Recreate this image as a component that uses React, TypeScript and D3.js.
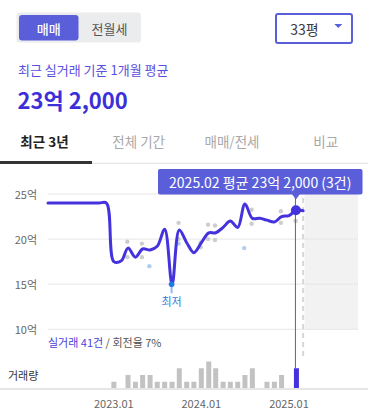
import React from "react";
import * as d3 from "d3";

// ---- data ----
const lineMonths = [
  "2022-04","2022-05","2022-06","2022-07","2022-08","2022-09","2022-10","2022-11","2022-12",
  "2023-01","2023-02","2023-03","2023-04","2023-05","2023-06","2023-07","2023-08","2023-09","2023-10","2023-11","2023-12",
  "2024-01","2024-02","2024-03","2024-04","2024-05","2024-06","2024-07","2024-08","2024-09","2024-10","2024-11","2024-12",
  "2025-01","2025-02","2025-03",
];
const lineValues = [
  24.0, 24.0, 24.0, 24.0, 24.0, 24.0, 24.0, 24.0, 24.0,
  17.5, 17.6, 19.0, 18.0, 18.9, 18.8, 19.2, 21.1, 15.0, 21.0, 19.6, 18.5,
  19.6, 20.7, 20.7, 21.3, 22.0, 21.3, 23.9, 22.3, 22.3, 22.1, 21.9, 22.5,
  22.6, 23.2, 23.15,
];

const dotMonths = [
  "2023-03","2023-03","2023-05","2023-05","2023-06","2023-10","2023-10","2023-10",
  "2024-01","2024-01","2024-02","2024-02","2024-03","2024-03","2024-07","2024-08","2024-08",
  "2024-12","2024-12","2025-02",
];
const dotValues = [
  19.7, 18.0, 19.5, 18.0, 17.0, 21.8, 20.0, 19.5,
  19.6, 19.1, 21.6, 20.0, 21.5, 19.9, 19.0, 23.25, 21.7,
  23.1, 21.8, 22.0,
];
const dotBlue = [
  false, false, false, false, true, false, false, true,
  false, false, false, false, false, false, true, false, false,
  false, false, false,
];

const volMonths = [
  "2023-01","2023-03","2023-04","2023-05","2023-06","2023-07","2023-08","2023-09","2023-10","2023-11","2023-12",
  "2024-01","2024-02","2024-03","2024-04","2024-05","2024-06","2024-07","2024-08","2024-10","2024-11","2024-12",
  "2025-02",
];
const volCounts = [1, 2, 1, 2, 2, 1, 1, 1, 3, 1, 1, 3, 4, 3, 1, 1, 1, 2, 3, 1, 1, 2, 3];

const yTicks = [25, 20, 15, 10];
const xTicks = ["2023-01", "2024-01", "2025-01"];
const tabs = ["최근 3년", "전체 기간", "매매/전세", "비교"];

const selectedMonth = "2025-02";
const currentMonth = "2025-03";
const minMonth = "2023-09";
const minValue = 15.0;

// ---- styles ----
const FONT = "'Noto Sans CJK KR', 'Noto Sans', sans-serif";
const PURPLE = "#5a5fd9";
const LINE = "#4433dd";

export default function App() {
  const parse = d3.timeParse("%Y-%m");
  const fmt = d3.timeFormat("%Y.%m");
  const x = d3
    .scaleTime()
    .domain([new Date(2022, 3, 1), new Date(2025, 9, 16)])
    .range([48, 358]);
  const y = d3.scaleLinear().domain([10, 25]).range([329.3, 194]);
  const vBase = 388.5;
  const vh = d3.scaleLinear().domain([0, 4]).range([0, 27]);

  const lineData = lineMonths.map((m, i) => ({ d: parse(m)!, v: lineValues[i] }));
  const linePath = d3
    .line<{ d: Date; v: number }>()
    .x((p) => x(p.d))
    .y((p) => y(p.v))
    .curve(d3.curveCatmullRom.alpha(0.5))(lineData)!;

  const selIdx = lineMonths.indexOf(selectedMonth);
  const selX = x(parse(selectedMonth)!);
  const selY = y(lineValues[selIdx]);
  const curX = x(parse(currentMonth)!);
  const minX = x(parse(minMonth)!);
  const minY = y(minValue);

  const tipX0 = 158;
  const tipX1 = 362.5;
  const tipY0 = 169;
  const tipY1 = 194.5;

  return (
    <svg
      width={368}
      height={412}
      style={{ position: "fixed", left: 0, top: 0, background: "#fff" }}
      fontFamily={FONT}
    >
      {/* toggle */}
      <rect x={16.5} y={12.5} width={124.5} height={30} rx={3} fill="#ebecee" />
      <rect x={19} y={15} width={59.5} height={25.5} rx={3} fill={PURPLE} />
      <text x={48.7} y={28} fontSize={13} fill="#fff" textAnchor="middle" dominantBaseline="central" fontWeight={500}>
        매매
      </text>
      <text x={109.5} y={28} fontSize={13} fill="#555" textAnchor="middle" dominantBaseline="central">
        전월세
      </text>

      {/* dropdown */}
      <rect x={276} y={14} width={76} height={29} rx={2} fill="#fff" stroke={PURPLE} strokeWidth={2} />
      <text x={304.5} y={28.5} fontSize={14} fill="#3a3a4a" textAnchor="middle" dominantBaseline="central">
        33평
      </text>
      <path d="M334.3,24 L342.3,24 L338.3,28 Z" fill={PURPLE} />

      {/* headline */}
      <text x={18} y={69.5} fontSize={13} fill="#5b4fe0" dominantBaseline="central">
        최근 실거래 기준 1개월 평균
      </text>
      <text x={17.5} y={98.5} fontSize={22} fontWeight={700} fill="#3d2fd8" dominantBaseline="central">
        23억 2,000
      </text>

      {/* tabs */}
      {tabs.map((t, i) => (
        <text
          key={t}
          x={[44.5, 138.7, 232, 325.7][i]}
          y={140.7}
          fontSize={13.5}
          fontWeight={i === 0 ? 700 : 400}
          fill={i === 0 ? "#222" : "#a8a8a8"}
          textAnchor="middle"
          dominantBaseline="central"
        >
          {t}
        </text>
      ))}
      <line x1={0} x2={368} y1={163.3} y2={163.3} stroke="#e0e0e0" strokeWidth={1} />
      <rect x={0} y={161} width={92} height={3} fill="#333" />

      {/* future shaded area */}
      <rect x={curX + 1.5} y={189} width={358 - curX - 1.5} height={329.3 - 189} fill="#f2f2f2" />

      {/* gridlines + y labels */}
      {yTicks.map((t) => (
        <g key={t}>
          <line x1={48} x2={358} y1={y(t)} y2={y(t)} stroke="#e6e6e6" strokeWidth={1} />
          <text x={37} y={y(t)} fontSize={11} fill="#666" textAnchor="end" dominantBaseline="central">
            {t}억
          </text>
        </g>
      ))}

      {/* current month dashed line */}
      <line x1={curX} x2={curX} y1={189} y2={358} stroke="#d6d6d6" strokeWidth={2} strokeDasharray="5,4" />

      {/* scatter dots */}
      {dotMonths.map((m, i) => (
        <circle
          key={i}
          cx={x(parse(m)!) - 0.7}
          cy={y(dotValues[i])}
          r={2.2}
          fill={dotBlue[i] ? "#aecdf5" : "#cdcdcd"}
        />
      ))}

      {/* price line */}
      <path d={linePath} fill="none" stroke={LINE} strokeWidth={3} strokeLinejoin="round" strokeLinecap="round" />

      {/* min marker */}
      <line x1={minX - 0.5} x2={minX - 0.5} y1={minY} y2={minY + 9} stroke="#8db9f2" strokeWidth={2} />
      <circle cx={minX - 0.5} cy={minY} r={2.8} fill="#1f7ae8" />
      <text x={minX - 0.5} y={300.7} fontSize={11} fill="#2f7de1" textAnchor="middle" dominantBaseline="central">
        최저
      </text>

      {/* volume info */}
      <text x={48} y={341.7} fontSize={11} dominantBaseline="central">
        <tspan fill="#4a3fd8">실거래 41건</tspan>
        <tspan fill="#555"> / 회전율 7%</tspan>
      </text>
      <text x={8} y={375} fontSize={11} fill="#333" dominantBaseline="central">
        거래량
      </text>

      {/* volume bars */}
      {volMonths.map((m, i) => {
        const cx = x(parse(m)!);
        const h = vh(volCounts[i]);
        return (
          <rect
            key={m}
            x={cx - 2.5}
            y={vBase - h}
            width={5}
            height={h}
            fill={m === selectedMonth ? LINE : "#c2c2c2"}
          />
        );
      })}
      <line x1={0} x2={368} y1={vBase + 0.5} y2={vBase + 0.5} stroke="#e6e6e6" strokeWidth={2} />

      {/* x axis labels */}
      {xTicks.map((m) => (
        <text key={m} x={x(parse(m)!)} y={403.3} fontSize={11} fill="#666" textAnchor="middle" dominantBaseline="central">
          {fmt(parse(m)!)}
        </text>
      ))}

      {/* selection line + marker */}
      <line x1={selX - 1} x2={selX - 1} y1={tipY1} y2={vBase - vh(volCounts[volMonths.indexOf(selectedMonth)])} stroke="#666" strokeWidth={1} />
      <circle cx={selX - 0.5} cy={selY} r={5} fill={LINE} />

      {/* tooltip */}
      <rect x={tipX0} y={tipY0} width={tipX1 - tipX0} height={tipY1 - tipY0} rx={2} fill={PURPLE} />
      <path d={`M${selX - 4.5},${tipY1 - 0.5} L${selX + 3.5},${tipY1 - 0.5} L${selX - 0.5},${tipY1 + 5}Z`} fill={PURPLE} />
      <text x={(tipX0 + tipX1) / 2} y={182} fontSize={14} fill="#fff" textAnchor="middle" dominantBaseline="central">
        {`${selectedMonth.replace("-", ".")} 평균 23억 2,000 (3건)`}
      </text>
    </svg>
  );
}
